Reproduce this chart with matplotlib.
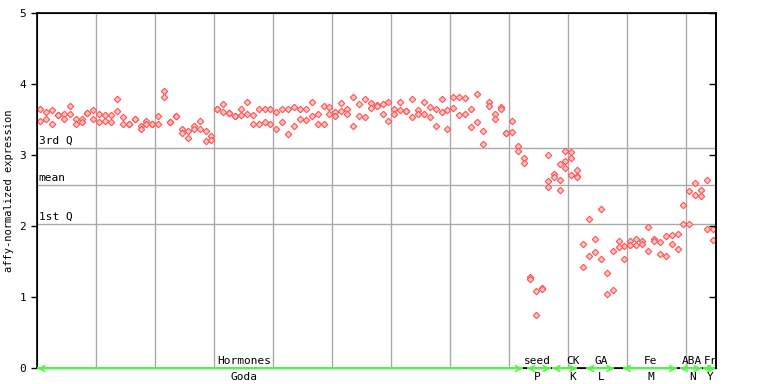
import matplotlib.pyplot as plt
import numpy as np

# replicate values per sample, index = sample number
rep_a = [3.65, 3.61, 3.64, 3.57, 3.59, 3.69, 3.51, 3.52, 3.60, 3.64,
         3.58, 3.57, 3.57, 3.79, 3.54, 3.45, 3.51, 3.42, 3.49, 3.45,
         3.55, 3.91, 3.47, 3.55, 3.37, 3.35, 3.41, 3.48, 3.35, 3.27,
         3.66, 3.72, 3.60, 3.55, 3.66, 3.75, 3.57, 3.65, 3.65, 3.66,
         3.61, 3.65, 3.65, 3.68, 3.66, 3.66, 3.76, 3.58, 3.69, 3.68,
         3.61, 3.74, 3.65, 3.82, 3.72, 3.79, 3.74, 3.71, 3.72, 3.76,
         3.66, 3.75, 3.62, 3.79, 3.64, 3.75, 3.68, 3.66, 3.79, 3.64,
         3.83, 3.83, 3.81, 3.66, 3.86, 3.34, 3.75, 3.59, 3.68, 3.31,
         3.48, 3.14, 2.96, 1.29, 1.09, 1.14, 3.00, 2.74, 2.88, 3.07,
         3.05, 2.79, 1.75, 2.10, 1.82, 2.24, 1.34, 1.66, 1.79, 1.72,
         1.79, 1.83, 1.79, 1.99, 1.83, 1.78, 1.86, 1.88, 1.90, 2.30,
         2.50, 2.61, 2.52, 2.66, 1.97]
rep_b = [3.48, 3.51, 3.45, 3.57, 3.51, 3.58, 3.45, 3.47, 3.60, 3.52,
         3.47, 3.48, 3.47, 3.62, 3.45, 3.45, 3.51, 3.38, 3.44, 3.45,
         3.45, 3.83, 3.47, 3.55, 3.31, 3.24, 3.38, 3.38, 3.20, 3.22,
         3.66, 3.61, 3.60, 3.55, 3.57, 3.59, 3.44, 3.44, 3.47, 3.44,
         3.37, 3.47, 3.30, 3.41, 3.52, 3.50, 3.55, 3.45, 3.44, 3.59,
         3.55, 3.62, 3.59, 3.41, 3.55, 3.54, 3.67, 3.69, 3.59, 3.48,
         3.58, 3.64, 3.62, 3.54, 3.58, 3.58, 3.54, 3.42, 3.61, 3.37,
         3.67, 3.57, 3.59, 3.40, 3.47, 3.16, 3.69, 3.51, 3.65, 3.31,
         3.33, 3.06, 2.90, 1.26, 0.75, 1.12, 2.64, 2.69, 2.65, 2.92,
         2.96, 2.71, 1.43, 1.58, 1.64, 1.54, 1.05, 1.10, 1.71, 1.54,
         1.74, 1.74, 1.76, 1.65, 1.79, 1.61, 1.58, 1.76, 1.68, 2.03,
         2.03, 2.44, 2.43, 1.97, 1.81]
# samples with a third replicate
extra_idx = [86, 88, 89, 90, 91]
extra_val = [2.55, 2.52, 2.83, 2.73, 2.69]

# summary lines
q3_val = 3.105
mean_val = 2.58
q1_val = 2.035

# experiment groups: top label, bottom label, first/last position, label position
grp_top = ["Hormones", "seed", "CK", "GA", "Fe", "ABA", "Fr"]
grp_bot = ["Goda", "P", "K", "L", "M", "N", "Y"]
grp_start = [-0.5, 82.5, 86.8, 92.5, 98.7, 108.4, 112.3]
grp_end = [81.8, 86.5, 91.0, 97.3, 107.9, 112.1, 114.4]
grp_lab = [34.5, 84.3, 90.2, 95.0, 103.4, 110.5, 113.6]

mono = "DejaVu Sans Mono"
red = "#ff5252"
green = "#55f545"

fig = plt.figure(figsize=(7.68, 3.84), dpi=100)
ax = fig.add_axes([0.0486, 0.0404, 0.8836, 0.9245])

x = np.arange(len(rep_a))
for xs, ys in [(x, rep_a), (x, rep_b), (extra_idx, extra_val)]:
    ax.plot(xs, ys, linestyle="none", marker="D", markersize=3.3,
            markerfacecolor="#ffc4c4", markeredgecolor=red,
            markeredgewidth=0.8, zorder=3)

ax.set_xlim(-0.5, 114.5)
ax.set_ylim(0, 5)

for gx in np.arange(9.5, 114, 10):
    ax.axvline(gx, color="#aaaaaa", lw=1, zorder=1)
for qv, qn in [(q3_val, "3rd Q"), (mean_val, "mean"), (q1_val, "1st Q")]:
    ax.axhline(qv, color="#aaaaaa", lw=1, zorder=1)
    ax.text(-0.3, qv + 0.03, qn, fontsize=8, family=mono, va="bottom", ha="left")

ax.set_xticks([])
ax.set_yticks(range(6))
ax.set_yticklabels([str(v) for v in range(6)], fontsize=8, family=mono)
ax.tick_params(axis="y", direction="out", length=4, width=1, pad=4)
ax.set_ylabel("affy-normalized expression", fontsize=7.5, family=mono)
ax.yaxis.set_label_coords(-0.034, 0.5)
for s in ax.spines.values():
    s.set_color("black")
    s.set_linewidth(1.2)

ax2 = ax.twinx()
ax2.set_ylim(0, 5)
ax2.set_yticks(range(6))
ax2.set_yticklabels([])
ax2.tick_params(axis="y", direction="in", length=5, width=1)
ax2.spines["right"].set_linewidth(1.2)

for t, b, s, e, lx in zip(grp_top, grp_bot, grp_start, grp_end, grp_lab):
    ax2.plot([s, e], [0, 0], color=green, lw=1.4, clip_on=False, zorder=5,
             solid_capstyle="butt")
    arr = ax2.annotate("", xy=(s, 0), xytext=(e, 0),
                       arrowprops=dict(arrowstyle="<->,head_length=0.4,head_width=0.2",
                                       color=green, lw=1.2, shrinkA=0, shrinkB=0,
                                       mutation_scale=10),
                       annotation_clip=False, zorder=6)
    arr.arrow_patch.set_clip_on(False)
    ax.annotate(t, xy=(lx, 0), xytext=(0, 1.5), textcoords="offset points",
                ha="center", va="bottom", fontsize=8, family=mono,
                annotation_clip=False)
    ax.annotate(b, xy=(lx, 0), xytext=(0, -2.5), textcoords="offset points",
                ha="center", va="top", fontsize=8, family=mono,
                annotation_clip=False)

fig.savefig("out.png", dpi=100)
